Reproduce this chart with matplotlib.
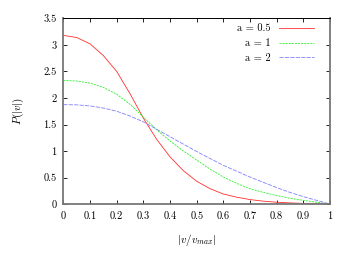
import matplotlib
matplotlib.use("Agg")
import matplotlib.pyplot as plt
import numpy as np

plt.rcParams['font.family'] = 'serif'
plt.rcParams['font.serif'] = ['cmr10', 'DejaVu Serif']
plt.rcParams['mathtext.fontset'] = 'cm'
plt.rcParams['axes.formatter.use_mathtext'] = True

# valeurs
v = [0.0, 0.05, 0.1, 0.15, 0.2, 0.25, 0.3, 0.35, 0.4, 0.45, 0.5,
     0.55, 0.6, 0.65, 0.7, 0.75, 0.8, 0.85, 0.9, 0.95, 1.0]
p_a05 = [3.18, 3.14, 3.02, 2.80, 2.50, 2.08, 1.62, 1.22, 0.89, 0.63, 0.43,
         0.29, 0.19, 0.13, 0.085, 0.055, 0.035, 0.022, 0.013, 0.006, 0.0]
p_a1 = [2.33, 2.32, 2.28, 2.20, 2.07, 1.88, 1.64, 1.40, 1.19, 1.00, 0.83,
        0.66, 0.51, 0.39, 0.29, 0.22, 0.16, 0.11, 0.07, 0.035, 0.0]
p_a2 = [1.875, 1.87, 1.85, 1.81, 1.75, 1.66, 1.55, 1.41, 1.27, 1.13, 0.99,
        0.86, 0.73, 0.62, 0.51, 0.41, 0.31, 0.22, 0.14, 0.07, 0.0]

xticks = [0, 0.1, 0.2, 0.3, 0.4, 0.5, 0.6, 0.7, 0.8, 0.9, 1]
xlabels = ['0', '0.1', '0.2', '0.3', '0.4', '0.5', '0.6', '0.7', '0.8', '0.9', '1']
yticks = [0, 0.5, 1, 1.5, 2, 2.5, 3, 3.5]
ylabels = ['0', '0.5', '1', '1.5', '2', '2.5', '3', '3.5']

fig = plt.figure(figsize=(3.5, 2.59), dpi=100)
ax = fig.add_axes([0.181, 0.212, 0.762, 0.717])

ax.plot(v, p_a05, color='#ff3030', linewidth=0.6, label='a = 0.5')
ax.plot(v, p_a1, color='#30ee30', linewidth=0.6, dashes=(2.5, 1.2), label='a = 1')
ax.plot(v, p_a2, color='#8080ff', linewidth=0.6, dashes=(5, 1.5), label='a = 2')

ax.set_xlim(0, 1)
ax.set_ylim(0, 3.5)
ax.set_xticks(xticks)
ax.set_xticklabels(xlabels)
ax.set_yticks(yticks)
ax.set_yticklabels(ylabels)
ax.tick_params(direction='in', length=3, width=0.6, labelsize=7.5,
               top=True, right=True, pad=5)

for side in ['left', 'right', 'bottom']:
    ax.spines[side].set_color('#777777')
    ax.spines[side].set_linewidth(1.3)
ax.spines['top'].set_color('black')
ax.spines['top'].set_linewidth(0.7)

ax.set_xlabel(r'$|v/v_{max}|$', fontsize=8, labelpad=8)
ax.set_ylabel(r'$P(|v|)$', fontsize=8, labelpad=12)

leg = ax.legend(loc='upper right', markerfirst=False, frameon=False,
                fontsize=7.5, handlelength=3.4, handletextpad=0.75,
                labelspacing=0.5, borderpad=0, borderaxespad=0,
                bbox_to_anchor=(0.94, 0.97))

fig.savefig("out.png", dpi=100)
